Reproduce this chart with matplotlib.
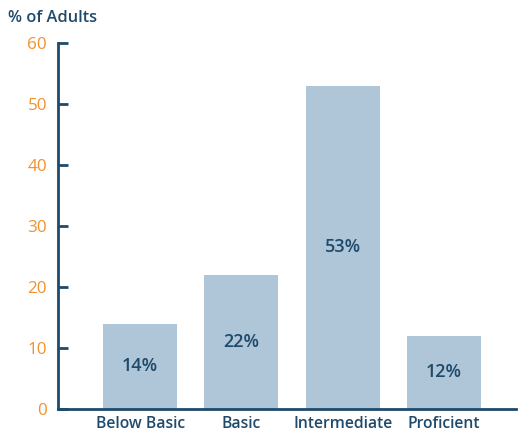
import matplotlib
matplotlib.use("Agg")
import matplotlib.pyplot as plt

categories = ["Below Basic", "Basic", "Intermediate", "Proficient"]
values = [14, 22, 53, 12]
yticks = [0, 10, 20, 30, 40, 50, 60]

dark = "#1f4a6b"
orange = "#f0922e"
barc = "#afc6d8"

plt.rcParams['font.family'] = ['Open Sans', 'DejaVu Sans']

fig = plt.figure(figsize=(5.18, 4.32), dpi=100)
ax = fig.add_axes([58/518, 23/432, (516-58)/518, (409-43)/432])
x = list(range(len(categories)))
bars = ax.bar(x, values, width=0.73, color=barc)
for xi, v in zip(x, values):
    ax.text(xi, v/2, f"{v}%", ha="center", va="center", color=dark,
            fontsize=13, fontweight="semibold")
ax.set_xlim(-0.81, 3.71)
ax.set_ylim(0, 60)
ax.set_yticks(yticks)
ax.set_xticks(x)
ax.set_xticklabels(categories, color=dark, fontsize=11.3, fontweight="semibold")
ax.tick_params(axis="x", length=0, pad=5)
ax.tick_params(axis="y", direction="in", length=7, width=2, color=dark,
               labelcolor=orange, labelsize=12.3, pad=8)
for s in ["top", "right"]:
    ax.spines[s].set_visible(False)
for s in ["left", "bottom"]:
    ax.spines[s].set_color(dark)
    ax.spines[s].set_linewidth(2)
fig.text(8/518, 1 - 18/432, "% of Adults", color=dark, fontsize=11.8,
         fontweight="semibold", ha="left", va="center")
fig.savefig("out.png", dpi=100)
